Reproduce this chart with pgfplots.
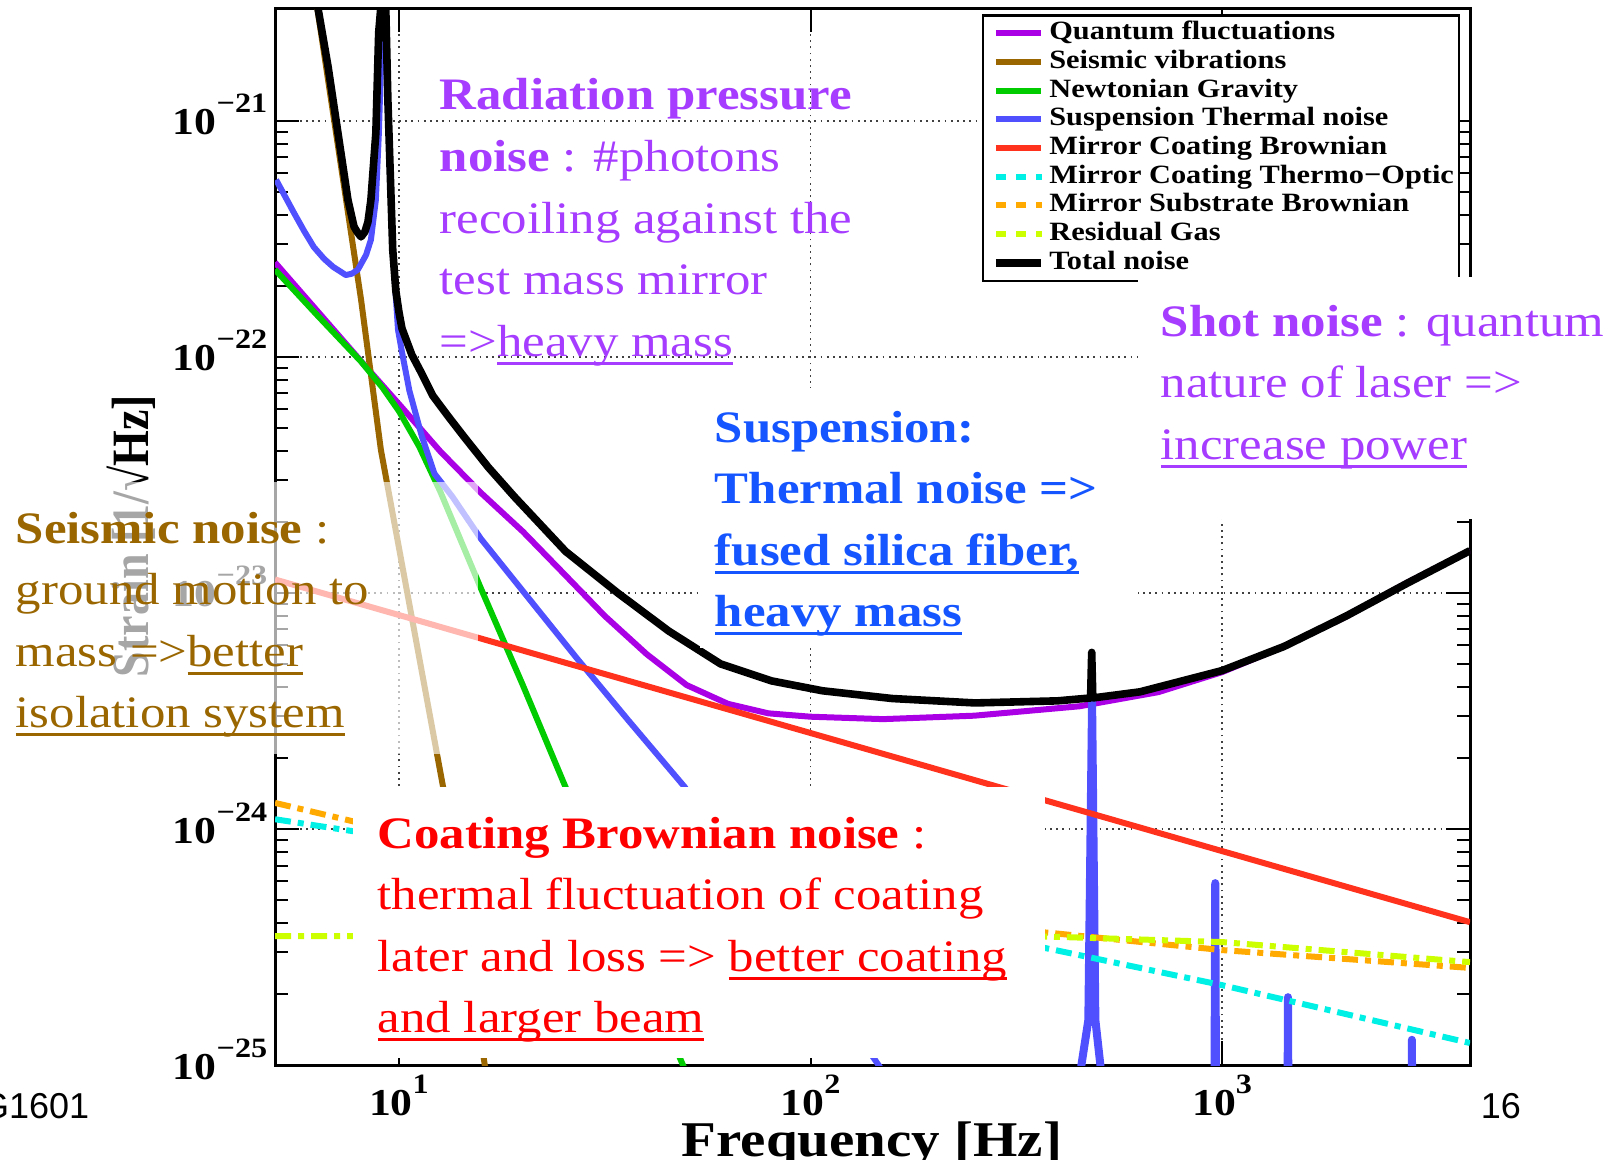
\documentclass[border=0pt]{standalone}
\usepackage{graphicx}
\usepackage{pgfplots}
\pgfplotsset{compat=1.18}
\usepackage{fontspec}
\setmainfont{Liberation Serif}
\newfontfamily\sansf{Liberation Sans}

\definecolor{cQ}{RGB}{170,0,230}
\definecolor{cS}{RGB}{153,102,0}
\definecolor{cN}{RGB}{0,204,0}
\definecolor{cB}{RGB}{80,80,255}
\definecolor{cR}{RGB}{255,50,30}
\definecolor{cT}{RGB}{0,240,230}
\definecolor{cO}{RGB}{255,170,0}
\definecolor{cG}{RGB}{204,255,0}
\definecolor{tP}{RGB}{165,60,255}
\definecolor{tB}{RGB}{20,85,255}
\definecolor{tS}{RGB}{153,102,0}
\definecolor{tR}{RGB}{255,0,0}

\newsavebox\ulbox
\newcommand{\ul}[1]{\sbox\ulbox{#1}\rlap{\rule[-2.1pt]{\wd\ulbox}{0.75pt}}\usebox\ulbox}
\newcommand{\tlab}[1]{\scalebox{1.15}[1]{\fontsize{9.5}{9.5}\selectfont\bfseries 10\raisebox{5.5pt}{\fontsize{7}{7}\selectfont #1}}}
\newcommand{\note}[3]{\node[anchor=base west,inner sep=0pt,text=#1] at #2 {\scalebox{1.13}[1]{\fontsize{11.25}{15.4}\selectfont\begin{tabular}[t]{@{}l@{}}#3\end{tabular}}};}

\pgfplotsset{
  dashline/.style={line width=1.5pt, dash pattern=on 4pt off 1.75pt on 1.5pt off 1.75pt,
    legend image code/.code={\path (0pt,0pt) (13.4pt,0pt); \draw[##1,dash pattern=on 2.5pt off 2.5pt] (1pt,0pt) -- (12.4pt,0pt);}},
}

\begin{document}
\begin{tikzpicture}
\useasboundingbox (0,0) rectangle (403pt,289.75pt);
\begin{axis}[
  at={(68.75pt,23.5pt)}, anchor=south west,
  scale only axis, width=298.75pt, height=264.25pt,
  xmode=log, ymode=log,
  xmin=5, xmax=4000, ymin=1e-25, ymax=3e-21,
  xtick={10,100,1000}, xticklabels={\tlab{1},\tlab{2},\tlab{3}},
  ytick={1e-25,1e-24,1e-23,1e-22,1e-21},
  yticklabels={\tlab{−25},\tlab{−24},\tlab{−23},\tlab{−22},\tlab{−21}},
  xminorticks=false,
  tick align=inside,
  major tick length=6pt, minor tick length=3.25pt,
  tick style={black, line width=0.5pt},
  axis line style={line width=0.75pt},
  grid=major,
  major grid style={black!75, line width=0.45pt, dash pattern=on 0.45pt off 1.1pt},
  xticklabel style={anchor=base, inner sep=0pt, yshift=-12.5pt},
  yticklabel style={anchor=base east, inner sep=0pt, xshift=-1.75pt, yshift=-3.5pt},
  legend style={at={(0.5916,0.9943)}, anchor=north west, draw=black, line width=0.6pt,
    fill=white, inner xsep=1.25pt, inner ysep=0.9pt,
    font=\fontsize{6.6}{6.6}\selectfont\bfseries,
    nodes={inner sep=0pt, text height=5.2pt, text depth=1.975pt},
    column sep=0pt, row sep=0pt},
  legend cell align=left,
  legend image code/.code={\path (0pt,0pt) (13.4pt,0pt); \draw[#1] (1pt,0pt) -- (12.2pt,0pt);},
  every axis plot/.append style={line join=round},
]
% quantum
\addplot[cQ, line width=1.5pt] coordinates {
 (5,2.51e-22) (8.2,9.33e-23) (10,6.31e-23) (12.6,3.98e-23) (15.8,2.66e-23) (20,1.82e-23)
 (25,1.22e-23) (31.6,8.0e-24) (40,5.5e-24) (50,4.07e-24) (63,3.39e-24) (79,3.09e-24)
 (100,2.99e-24) (150,2.92e-24) (250,3.02e-24) (450,3.31e-24) (700,3.80e-24) (1000,4.62e-24)
 (1400,5.89e-24) (2000,7.94e-24) (2800,1.10e-23) (4000,1.51e-23)};
\addlegendentry{\scalebox{1.15}[1]{Quantum fluctuations}}
% seismic
\addplot[cS, line width=1.5pt] coordinates {
 (6.0,5.62e-21) (6.84,1.23e-21) (8.09,1.75e-22) (9.04,4.04e-23) (12.8,1.51e-24)
 (16.1,1.05e-25) (17,5.5e-26)};
\addlegendentry{\scalebox{1.15}[1]{Seismic vibrations}}
% newtonian
\addplot[cN, line width=1.5pt] coordinates {
 (5,2.34e-22) (6.31,1.51e-22) (8.09,9.55e-23) (9.12,7.41e-23) (10,5.89e-23) (11.2,4.17e-23)
 (12.6,2.69e-23) (15.8,1.05e-23) (20,4.07e-24) (25.1,1.58e-24) (31.6,6.17e-25)
 (39.8,2.34e-25) (50.1,9.12e-26)};
\addlegendentry{\scalebox{1.15}[1]{Newtonian Gravity}}
% suspension thermal
\addplot[cB, line width=1.5pt] coordinates {
 (5.03,5.62e-22) (5.28,4.81e-22) (5.56,4.07e-22) (5.88,3.42e-22) (6.21,2.92e-22) (6.58,2.60e-22)
 (6.93,2.40e-22) (7.23,2.29e-22) (7.43,2.22e-22) (7.69,2.25e-22) (7.95,2.34e-22) (8.32,2.70e-22)
 (8.55,3.13e-22) (8.79,4.62e-22) (8.94,8.89e-22) (9.04,1.69e-21) (9.12,3.04e-21)
 (9.20,1.0e-20) (9.29,3.04e-21) (9.40,1.23e-21) (9.66,2.84e-22) (9.95,1.30e-22) (10.17,1.05e-22)
 (10.6,7.2e-23) (11.37,4.6e-23) (12.2,3.2e-23) (13.5,2.55e-23) (15.8,1.70e-23) (27.0,5.31e-24)
 (36.0,2.90e-24) (49.4,1.51e-24)
 (100,2.57e-25) (143,1.06e-25) (200,4.5e-26) (400,1e-26)};
\addlegendentry{\scalebox{1.15}[1]{Suspension Thermal noise}}
% violin-mode peaks of the suspension curve
\addplot[cB, line width=2pt, forget plot] coordinates {
 (400,1e-26) (430,2e-26)
 (455,1e-25) (473,1.55e-25) (483,3.52e-24) (492,1.55e-25) (506,1e-25) (540,2e-26)
 (955,2e-26) (962,5.9e-25) (969,2e-26)
 (1437,2e-26) (1445,1.94e-25) (1453,2e-26)
 (2875,2e-26) (2890,1.28e-25) (2905,2e-26) (4000,1e-26)};
% coating brownian
\addplot[cR, line width=1.5pt] coordinates {
 (5,1.14e-23) (10,8.06e-24) (100,2.55e-24) (1000,8.06e-25) (4000,4.03e-25)};
\addlegendentry{\scalebox{1.15}[1]{Mirror Coating Brownian}}
% thermo-optic
\addplot[cT, dashline] coordinates {
 (5,1.10e-24) (7.7,9.8e-25) (30,6.9e-25) (100,4.9e-25) (383,3.10e-25) (1000,2.18e-25) (4000,1.24e-25)};
\addlegendentry{\scalebox{1.15}[1]{Mirror Coating Thermo−Optic}}
% substrate brownian
\addplot[cO, dashline] coordinates {
 (5,1.29e-24) (7.7,1.08e-24) (20,7.6e-25) (60,5.2e-25) (150,4.2e-25) (383,3.63e-25) (1000,3.07e-25) (4000,2.58e-25)};
\addlegendentry{\scalebox{1.15}[1]{Mirror Substrate Brownian}}
% residual gas
\addplot[cG, dashline] coordinates {
 (5,3.52e-25) (100,3.52e-25) (383,3.50e-25) (1000,3.32e-25) (4000,2.73e-25)};
\addlegendentry{\scalebox{1.15}[1]{Residual Gas}}
% total
\addplot[black, line width=1.9pt] coordinates {
 (6,5.7e-21) (6.35,3.04e-21) (6.73,1.69e-21) (7.11,8.89e-22) (7.52,4.62e-22) (7.78,3.56e-22)
 (7.91,3.39e-22) (8.09,3.22e-22) (8.27,3.39e-22) (8.41,3.73e-22) (8.55,4.62e-22) (8.79,8.89e-22)
 (8.93,2.36e-21) (9.04,3.04e-21) (9.2,1e-20)
 (9.29,3.04e-21) (9.40,1.23e-21) (9.66,2.84e-22) (9.83,1.9e-22) (10.0,1.55e-22) (10.17,1.32e-22)
 (10.75,1.02e-22) (11.4,8.4e-23) (12.09,6.84e-23) (13.15,5.62e-23) (14.4,4.58e-23)
 (16.5,3.4e-23) (19.1,2.55e-23) (25.4,1.5e-23)
 (34,1.0e-23) (45.2,6.9e-24) (60.5,5.0e-24) (80.4,4.24e-24) (107,3.85e-24)
 (158,3.57e-24) (251,3.42e-24) (398,3.49e-24) (479,3.59e-24) (482,5.6e-24) (485,3.59e-24)
 (631,3.81e-24) (1000,4.69e-24) (1413,5.93e-24) (1995,7.96e-24) (2818,1.10e-23) (4000,1.51e-23)};
\addlegendentry{\scalebox{1.15}[1]{Total noise}}
\end{axis}

\begin{scope}[x=0.25pt,y=-0.25pt,yshift=289.75pt]
 \node[rotate=90,anchor=base,inner sep=0pt] at (148,536)
   {\scalebox{1}[1.14]{\fontsize{11.5}{11.5}\selectfont\bfseries Strain [1/√Hz]}};
 \fill[white,opacity=0.65] (0,482) rectangle (478,754);
 \note{tS}{(15,543)}{\textbf{Seismic noise} :\\ground motion to\\mass =>\ul{better}\\\ul{isolation system}}
 \fill[white] (353,787) rectangle (1045,1058);
 \note{tR}{(377,848)}{\textbf{Coating Brownian noise} :\\thermal fluctuation of coating\\later and loss => \ul{better coating}\\\ul{and larger beam}}
 \fill[white] (1138,277) rectangle (1612,519);
 \note{tP}{(1160,336)}{\textbf{Shot noise} : quantum\\nature of laser =>\\\ul{increase power}}
 \fill[white] (700,388) rectangle (1138,648);
 \note{tB}{(714,442)}{\textbf{Suspension:}\\\textbf{Thermal noise =>}\\\textbf{\ul{fused silica fiber,}}\\\textbf{\ul{heavy mass}}}
 \note{tP}{(439,110)}{\textbf{Radiation pressure}\\\textbf{noise} : \#photons\\recoiling against the\\test mass mirror\\=>\ul{heavy mass}}
 \node[anchor=base,inner sep=0pt] at (872,1156)
   {\scalebox{1.14}[1]{\fontsize{12.5}{12.5}\selectfont\bfseries Frequency [Hz]}};
 \node[anchor=base east,inner sep=0pt,font=\sansf\fontsize{9}{9}\selectfont] at (90,1118) {G1601};
 \node[anchor=base west,inner sep=0pt,font=\sansf\fontsize{9}{9}\selectfont] at (1480,1118) {16};
\end{scope}
\end{tikzpicture}
\end{document}
